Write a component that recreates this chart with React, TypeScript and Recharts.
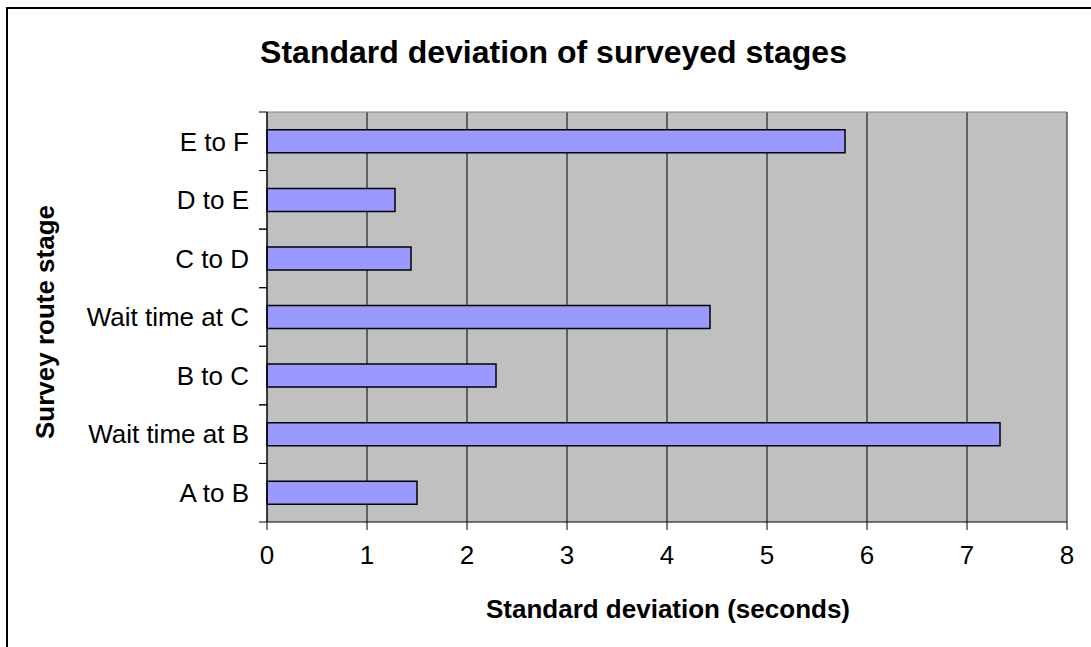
import { Bar, BarChart, CartesianGrid, XAxis, YAxis } from "recharts";

const stages = ["A to B", "Wait time at B", "B to C", "Wait time at C", "C to D", "D to E", "E to F"];
const stdDev = [1.5, 7.33, 2.29, 4.43, 1.44, 1.28, 5.78];
const xTicks = [0, 1, 2, 3, 4, 5, 6, 7, 8];

const font = "'Liberation Sans', Arial, sans-serif";

// category label plus Excel-style tick marks on the band boundaries
function StageTick(props: any) {
  const { x, y, payload } = props;
  const half = payload.offset || 29;
  const axisX = x + 18;
  return (
    <g>
      <line x1={axisX - 8} x2={axisX} y1={y - half} y2={y - half} stroke="#000" />
      <line x1={axisX - 8} x2={axisX} y1={y + half} y2={y + half} stroke="#000" />
      <text x={x} y={y} dy="0.355em" textAnchor="end" fill="#000" fontSize={26} fontFamily={font}>
        {payload.value}
      </text>
    </g>
  );
}

export default function App() {
  const data = stages.map((name, i) => ({ name, value: stdDev[i] }));
  return (
    <div style={{ position: "fixed", left: 0, top: 0, width: 1091, height: 647, overflow: "hidden", background: "#fff", fontFamily: font }}>
      <div style={{ position: "absolute", left: 6, top: 7, width: 1200, height: 800, border: "2px solid #000" }} />
      <div style={{ position: "absolute", left: 0, top: 34, width: 1107, textAlign: "center", fontSize: 32, fontWeight: "bold" }}>
        Standard deviation of surveyed stages
      </div>
      <div style={{ position: "absolute", left: 368, top: 594, width: 600, textAlign: "center", fontSize: 26, fontWeight: "bold" }}>
        Standard deviation (seconds)
      </div>
      <div
        style={{
          position: "absolute",
          left: 45,
          top: 322,
          width: 400,
          textAlign: "center",
          fontSize: 26,
          fontWeight: "bold",
          transform: "translate(-50%, -50%) rotate(-90deg)",
        }}
      >
        Survey route stage
      </div>
      <div style={{ position: "absolute", left: 0, top: 0 }}>
        <BarChart
          width={1091}
          height={647}
          data={data}
          layout="vertical"
          margin={{ top: 111, right: 23, bottom: 85, left: 17 }}
          barCategoryGap="30.4%"
        >
          <CartesianGrid horizontal={false} stroke="#000" fill="#c0c0c0" fillOpacity={1} />
          <XAxis
            type="number"
            domain={[0, 8]}
            ticks={xTicks}
            interval={0}
            height={40}
            tickSize={8}
            tickMargin={16}
            stroke="#000"
            tick={{ fill: "#000", fontSize: 26, fontFamily: font }}
          />
          <XAxis
            xAxisId="top"
            orientation="top"
            type="number"
            domain={[0, 8]}
            height={1}
            tick={false}
            tickLine={false}
            stroke="#808080"
          />
          <YAxis
            yAxisId="cat"
            type="category"
            dataKey="name"
            reversed
            width={250}
            tickLine={false}
            tickSize={0}
            tickMargin={18}
            interval={0}
            stroke="#000"
            tick={<StageTick />}
          />
          <YAxis
            yAxisId="right"
            orientation="right"
            type="category"
            dataKey="name"
            width={1}
            tick={false}
            tickLine={false}
            stroke="#808080"
          />
          <Bar yAxisId="cat" dataKey="value" fill="#9999ff" stroke="#000" strokeWidth={1.5} isAnimationActive={false} />
        </BarChart>
      </div>
    </div>
  );
}
